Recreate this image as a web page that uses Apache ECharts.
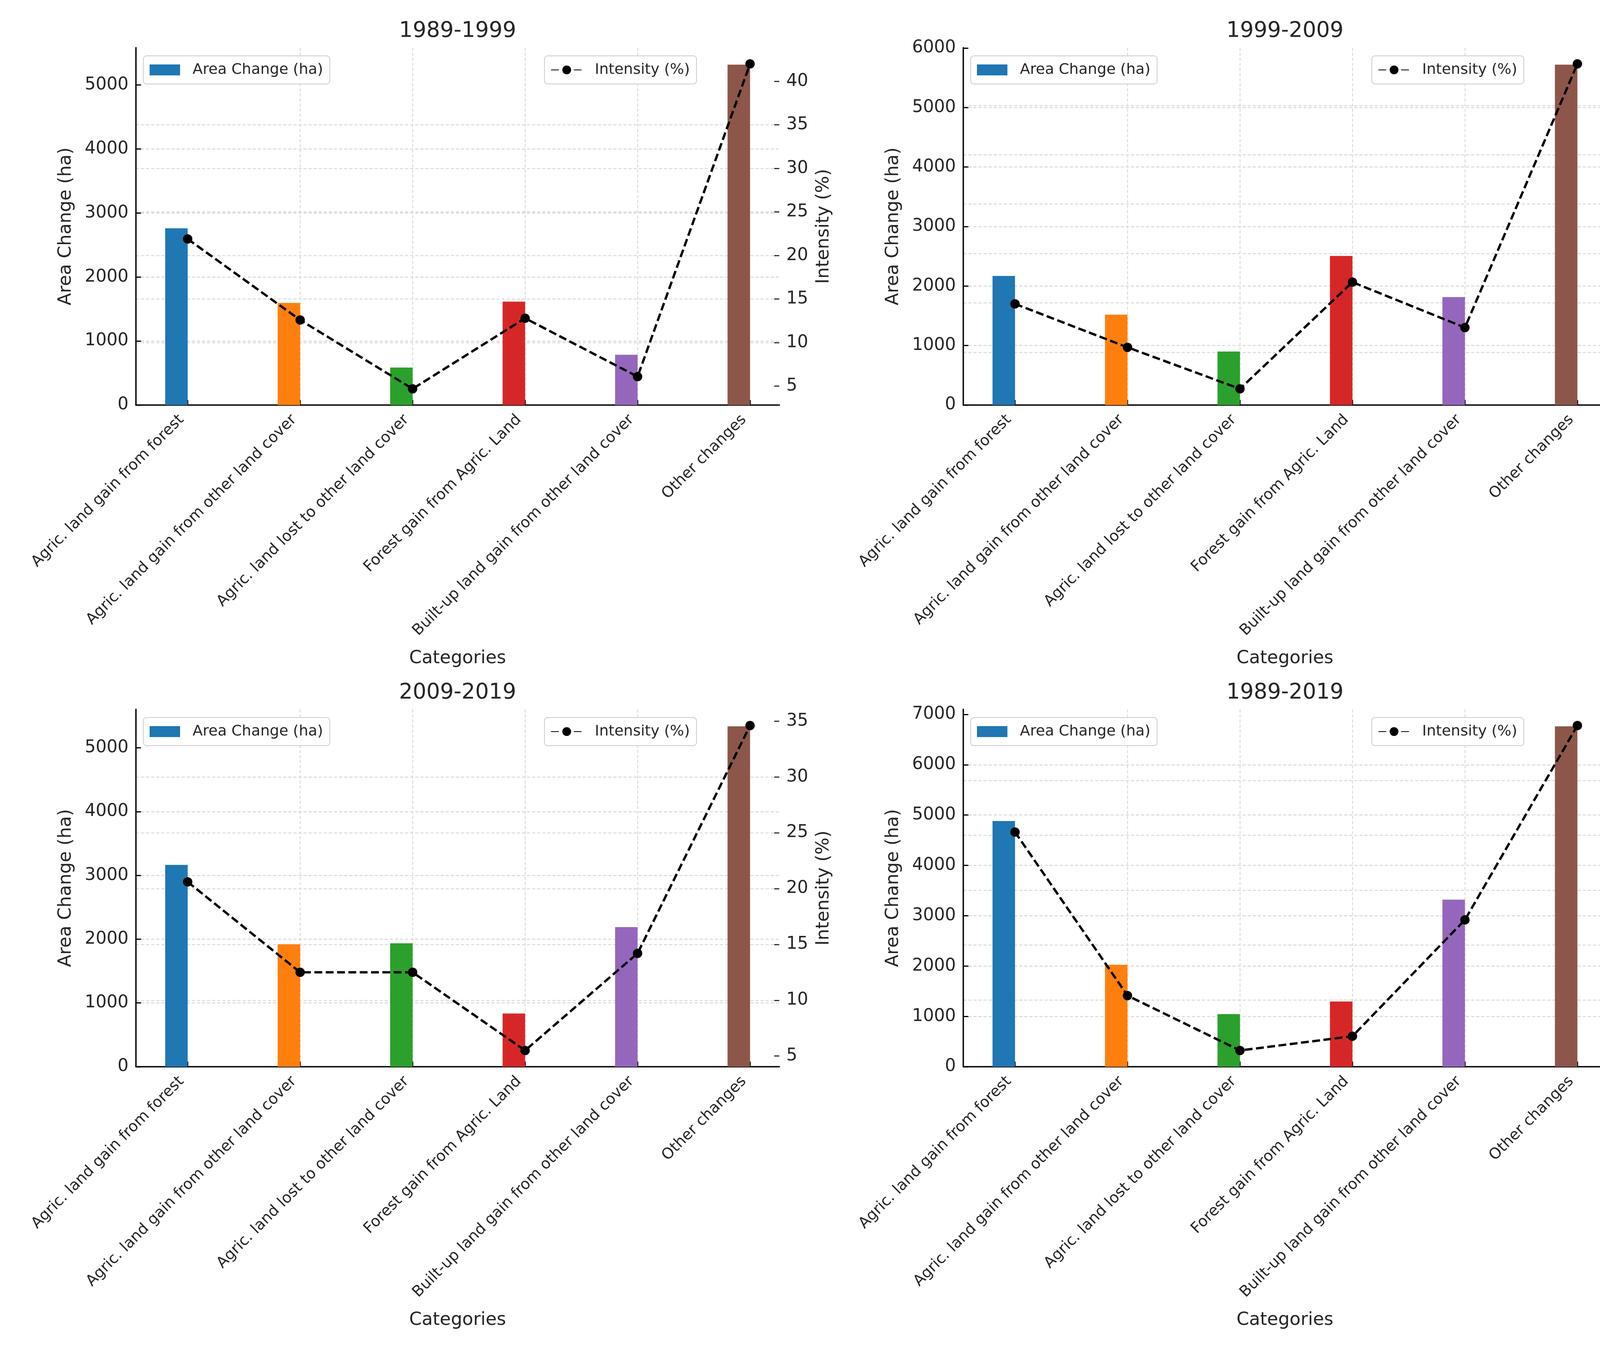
<!DOCTYPE html>
<html lang="en" style="height: 100%">

<head>
  <meta charset="utf-8">
</head>

<body style="height: 100%; margin: 0; background: #fff">
<div id="container" style="height: 100%"></div>
<script type="text/javascript" src="https://cdn.jsdelivr.net/npm/echarts@6/dist/echarts.min.js"></script>

<script type="text/javascript">
  // categories and values
  var CATEGORIES = [
    'Agric. land gain from forest',
    'Agric. land gain from other land cover',
    'Agric. land lost to other land cover',
    'Forest gain from Agric. Land',
    'Built-up land gain from other land cover',
    'Other changes'
  ];
  var PERIODS = ['1989-1999', '1999-2009', '2009-2019', '1989-2019'];

  var AREA_1989_1999 = [2760, 1595, 585, 1615, 786, 5315];
  var AREA_1999_2009 = [2170, 1520, 900, 2505, 1815, 5720];
  var AREA_2009_2019 = [3165, 1920, 1935, 835, 2190, 5337];
  var AREA_1989_2019 = [4880, 2025, 1045, 1295, 3320, 6762];

  var INTENSITY_1989_1999 = [21.9, 12.6, 4.7, 12.8, 6.1, 42.0];
  var INTENSITY_1999_2009 = [14.9, 10.5, 6.3, 17.1, 12.5, 39.2];
  var INTENSITY_2009_2019 = [20.6, 12.5, 12.5, 5.5, 14.2, 34.6];
  var INTENSITY_1989_2019 = [25.3, 10.4, 5.4, 6.7, 17.3, 35.0];

  var AREAS = [AREA_1989_1999, AREA_1999_2009, AREA_2009_2019, AREA_1989_2019];
  var INTENSITIES = [INTENSITY_1989_1999, INTENSITY_1999_2009, INTENSITY_2009_2019, INTENSITY_1989_2019];

  // tab10 colours, one per category
  var COLORS = ['#1f77b4', '#ff7f0e', '#2ca02c', '#d62728', '#9467bd', '#8c564b'];

  // layout (pixels)
  var GRID_LEFTS = [348, 2466];
  var GRID_TOPS = [122, 1816];
  var GRID_W = 1647;
  var GRID_H = 915;
  var PAGE_W = 4292;

  var FONT = 'DejaVu Sans';
  var TEXT = '#262626';
  var BAR_W = 0.2;                    // bar width in category units
  var X_MIN = -BAR_W - 0.26;          // matplotlib-like 5% margins
  var X_MAX = CATEGORIES.length - 1 + 0.26;

  var dom = document.getElementById('container');
  var myChart = echarts.init(dom, null, {
    renderer: 'canvas',
    useDirtyRect: false
  });

  function isMultiple(v, step) {
    return Math.abs(v / step - Math.round(v / step)) < 1e-6;
  }
  // tick values that are multiples of step inside [lo, hi]
  function stepsIn(lo, hi, step) {
    var out = [];
    for (var v = Math.ceil(lo / step) * step; v <= hi + 1e-9; v += step) out.push(v);
    return out;
  }

  var grid = [], xAxis = [], yAxis = [], series = [], title = [], legend = [];
  var barPx = GRID_W / (X_MAX - X_MIN) * BAR_W;
  var xTicks = CATEGORIES.map(function (c, i) { return i; });

  PERIODS.forEach(function (period, k) {
    var gl = GRID_LEFTS[k % 2];
    var gt = GRID_TOPS[Math.floor(k / 2)];
    var area = AREAS[k];
    var inten = INTENSITIES[k];
    var aMax = Math.max.apply(null, area) * 1.05;
    var iLo = Math.min.apply(null, inten), iHi = Math.max.apply(null, inten);
    var iPad = (iHi - iLo) * 0.05;
    var aTicks = stepsIn(0, aMax, 1000);
    var iTicks = stepsIn(iLo - iPad, iHi + iPad, 5);

    grid.push({ left: gl, top: gt, width: GRID_W, height: GRID_H, containLabel: false, outerBoundsMode: 'none' });

    title.push({
      text: period,
      left: gl + GRID_W / 2,
      top: gt - 70,
      textAlign: 'center',
      textVerticalAlign: 'top',
      padding: 0,
      textStyle: { fontFamily: FONT, fontSize: 55, fontWeight: 'normal', color: TEXT }
    });

    xAxis.push({
      type: 'value',
      gridIndex: k,
      min: X_MIN,
      max: X_MAX,
      minInterval: 1,
      maxInterval: 1,
      name: 'Categories',
      nameLocation: 'middle',
      nameGap: 626,
      nameTextStyle: { fontFamily: FONT, fontSize: 46, color: TEXT },
      axisLine: { show: true, onZero: false, lineStyle: { color: '#000', width: 3.5 } },
      axisTick: { show: true, inside: true, length: 13, customValues: xTicks, lineStyle: { color: '#000', width: 3 } },
      axisLabel: {
        rotate: 45,
        margin: 16,
        padding: [0, 22, 0, 0],
        fontFamily: FONT,
        fontSize: 39,
        color: TEXT,
        customValues: xTicks,
        formatter: function (v) {
          var i = Math.round(v);
          return isMultiple(v, 1) && CATEGORIES[i] ? CATEGORIES[i] : '';
        }
      },
      splitLine: {
        show: true, showMinLine: false, showMaxLine: false,
        lineStyle: { color: '#dcdcdc', width: 2.5, type: [8, 5] }
      }
    });

    yAxis.push({
      type: 'value',
      gridIndex: k,
      position: 'left',
      min: 0,
      max: aMax,
      interval: 1000,
      name: 'Area Change (ha)',
      nameLocation: 'middle',
      nameGap: 156,
      nameRotate: 90,
      nameTextStyle: { fontFamily: FONT, fontSize: 46, color: TEXT },
      axisLine: { show: true, onZero: false, lineStyle: { color: '#000', width: 3.5 } },
      axisTick: { show: true, inside: true, length: 13, customValues: aTicks, lineStyle: { color: '#000', width: 3 } },
      axisLabel: {
        margin: 19, fontFamily: FONT, fontSize: 44, color: TEXT,
        customValues: aTicks,
        formatter: function (v) { return isMultiple(v, 1000) ? String(Math.round(v)) : ''; }
      },
      splitLine: {
        show: true, showMinLine: false, showMaxLine: false,
        lineStyle: { color: '#d8d8d8', width: 2.5, type: [8, 5] }
      }
    });

    yAxis.push({
      type: 'value',
      gridIndex: k,
      position: 'right',
      min: iLo - iPad,
      max: iHi + iPad,
      minInterval: 5,
      maxInterval: 5,
      name: 'Intensity (%)',
      nameLocation: 'middle',
      nameGap: 91,
      nameRotate: 90,
      nameTextStyle: { fontFamily: FONT, fontSize: 46, color: TEXT },
      axisLine: { show: false, onZero: false },
      axisTick: { show: true, inside: true, length: 13, customValues: iTicks, lineStyle: { color: '#333', width: 3 } },
      axisLabel: {
        margin: 18, fontFamily: FONT, fontSize: 44, color: TEXT,
        customValues: iTicks,
        formatter: function (v) { return isMultiple(v, 5) ? String(Math.round(v)) : ''; }
      },
      splitLine: {
        show: true, showMinLine: false, showMaxLine: false,
        lineStyle: { color: '#dadada', width: 2.5, type: [8, 5] }
      }
    });

    series.push({
      type: 'bar',
      name: 'Area Change (ha)',
      xAxisIndex: k,
      yAxisIndex: 2 * k,
      barWidth: barPx,
      itemStyle: { color: COLORS[0] },
      data: area.map(function (v, i) {
        // matplotlib puts each bar just left of its tick
        return { value: [i - BAR_W / 2, v], itemStyle: { color: COLORS[i] } };
      })
    });

    series.push({
      type: 'line',
      name: 'Intensity (%)',
      xAxisIndex: k,
      yAxisIndex: 2 * k + 1,
      symbol: 'circle',
      symbolSize: 24,
      itemStyle: { color: '#000' },
      lineStyle: { color: '#000', width: 6, type: [20, 9] },
      z: 3,
      data: inten.map(function (v, i) { return [i, v]; })
    });

    var boxStyle = {
      orient: 'horizontal',
      itemHeight: 28,
      padding: [17, 17, 17, 16],
      borderColor: '#cccccc',
      borderWidth: 2,
      borderRadius: 8,
      backgroundColor: 'rgba(255,255,255,0.8)',
      selectedMode: false,
      textStyle: { fontFamily: FONT, fontSize: 38, color: TEXT, padding: [0, 0, 0, 27] }
    };
    legend.push(Object.assign({
      data: [{ name: 'Area Change (ha)', icon: 'rect' }],
      left: gl + 19,
      top: gt + 21,
      itemWidth: 78
    }, boxStyle));
    legend.push(Object.assign({
      data: ['Intensity (%)'],
      right: PAGE_W - (gl + GRID_W - 16),
      top: gt + 21,
      itemWidth: 80
    }, boxStyle));
  });

  var option = {
    animation: false,
    backgroundColor: '#ffffff',
    textStyle: { fontFamily: FONT },
    title: title,
    legend: legend,
    grid: grid,
    xAxis: xAxis,
    yAxis: yAxis,
    series: series
  };

  if (option && typeof option === 'object') {
    myChart.setOption(option);
  }

  window.addEventListener('resize', myChart.resize);
</script>
</body>

</html>
